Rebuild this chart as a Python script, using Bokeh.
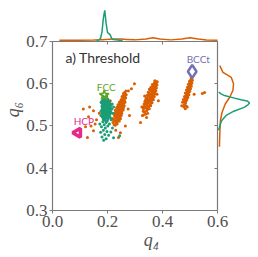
import math
from bokeh.plotting import figure
from bokeh.models import Range1d, FixedTicker, LinearAxis, Label, PrintfTickFormatter
from bokeh.embed import file_html
from bokeh.resources import INLINE

# ---------------- data ----------------
# orange: threshold-identified structures (q4, q6)
orange_q4 = [
    0.224, 0.231, 0.227, 0.236, 0.222, 0.233, 0.240, 0.229, 0.237, 0.226,
    0.244, 0.234, 0.241, 0.231, 0.248, 0.238, 0.245, 0.234, 0.251, 0.242,
    0.249, 0.237, 0.254, 0.245, 0.252, 0.240, 0.257, 0.248, 0.255, 0.244,
    0.259, 0.251, 0.257, 0.248, 0.262, 0.254, 0.260, 0.256, 0.263, 0.259,
    0.265, 0.262, 0.239, 0.246, 0.229, 0.250, 0.243, 0.253, 0.236, 0.258,
    0.220, 0.228, 0.235, 0.218, 0.243, 0.224, 0.247, 0.228, 0.252, 0.233,
    0.257, 0.238, 0.261, 0.243, 0.264, 0.250, 0.266, 0.253, 0.268, 0.258,
    0.267, 0.246, 0.241, 0.250, 0.255, 0.236, 0.232, 0.245,
    0.335, 0.342, 0.331, 0.346, 0.338, 0.350, 0.334, 0.343, 0.355, 0.339,
    0.348, 0.358, 0.344, 0.353, 0.338, 0.361, 0.349, 0.357, 0.343, 0.364,
    0.353, 0.347, 0.360, 0.367, 0.356, 0.351, 0.363, 0.370, 0.359, 0.366,
    0.355, 0.372, 0.362, 0.369, 0.375, 0.366, 0.372, 0.377, 0.370, 0.378,
    0.374, 0.346, 0.352, 0.358, 0.365, 0.341, 0.362, 0.345,
    0.330, 0.328, 0.333, 0.336, 0.340, 0.344, 0.348, 0.352, 0.358, 0.363,
    0.352, 0.357, 0.362, 0.367, 0.370, 0.373, 0.376, 0.378, 0.380, 0.349,
    0.355, 0.360, 0.341, 0.368, 0.346, 0.338, 0.335, 0.372, 0.381,
    0.479, 0.484, 0.478, 0.486, 0.481, 0.489, 0.484, 0.490, 0.486, 0.493,
    0.488, 0.495, 0.491, 0.497, 0.493, 0.499, 0.495, 0.501, 0.497, 0.503,
    0.500, 0.505, 0.502, 0.506, 0.504, 0.507, 0.482, 0.487, 0.492, 0.496,
    0.500,
    0.476, 0.480, 0.483, 0.487, 0.491, 0.494, 0.498, 0.488, 0.492, 0.496,
    0.499, 0.502, 0.505, 0.507, 0.509, 0.485, 0.478, 0.483,
    0.298, 0.287, 0.276, 0.149, 0.131, 0.112, 0.149, 0.127, 0.240,
    0.247, 0.327, 0.320, 0.553, 0.545, 0.473, 0.160, 0.155, 0.170, 0.120,
    0.140, 0.275, 0.280, 0.230, 0.265, 0.330, 0.342, 0.325, 0.385, 0.380,
    0.470, 0.490, 0.515, 0.200, 0.195, 0.210, 0.135,
]
orange_q6 = [
    0.503, 0.507, 0.511, 0.510, 0.515, 0.514, 0.516, 0.519, 0.520, 0.523,
    0.522, 0.525, 0.526, 0.529, 0.528, 0.531, 0.532, 0.535, 0.534, 0.537,
    0.539, 0.540, 0.541, 0.543, 0.545, 0.546, 0.547, 0.549, 0.551, 0.552,
    0.553, 0.555, 0.558, 0.559, 0.560, 0.562, 0.565, 0.568, 0.570, 0.573,
    0.576, 0.579, 0.513, 0.519, 0.532, 0.525, 0.548, 0.537, 0.545, 0.543,
    0.508, 0.502, 0.505, 0.518, 0.512, 0.528, 0.517, 0.537, 0.530, 0.543,
    0.538, 0.550, 0.548, 0.556, 0.556, 0.563, 0.566, 0.570, 0.574, 0.577,
    0.583, 0.541, 0.536, 0.546, 0.556, 0.528, 0.520, 0.527,
    0.533, 0.536, 0.540, 0.541, 0.543, 0.546, 0.547, 0.549, 0.551, 0.553,
    0.554, 0.556, 0.558, 0.559, 0.561, 0.561, 0.563, 0.565, 0.566, 0.567,
    0.569, 0.572, 0.571, 0.573, 0.575, 0.578, 0.578, 0.580, 0.582, 0.585,
    0.585, 0.587, 0.589, 0.591, 0.593, 0.595, 0.597, 0.600, 0.601, 0.604,
    0.606, 0.546, 0.562, 0.573, 0.580, 0.556, 0.584, 0.539,
    0.535, 0.545, 0.552, 0.558, 0.566, 0.573, 0.580, 0.587, 0.592, 0.598,
    0.541, 0.548, 0.555, 0.562, 0.569, 0.576, 0.583, 0.590, 0.597, 0.557,
    0.567, 0.576, 0.561, 0.588, 0.530, 0.528, 0.571, 0.607, 0.605,
    0.551, 0.555, 0.558, 0.560, 0.563, 0.565, 0.568, 0.571, 0.573, 0.575,
    0.578, 0.580, 0.583, 0.585, 0.588, 0.590, 0.593, 0.595, 0.598, 0.600,
    0.603, 0.605, 0.608, 0.611, 0.614, 0.617, 0.560, 0.569, 0.579, 0.589,
    0.598,
    0.563, 0.570, 0.578, 0.585, 0.592, 0.599, 0.606, 0.562, 0.568, 0.574,
    0.582, 0.588, 0.594, 0.601, 0.608, 0.548, 0.545, 0.541,
    0.600, 0.588, 0.583, 0.536, 0.522, 0.540, 0.489, 0.473, 0.473,
    0.484, 0.525, 0.508, 0.579, 0.577, 0.556, 0.515, 0.505, 0.530, 0.498,
    0.500, 0.540, 0.525, 0.490, 0.500, 0.526, 0.520, 0.545, 0.560, 0.575,
    0.548, 0.545, 0.575, 0.548, 0.530, 0.560, 0.545,
]

# green: FCC-like structures (q4, q6)
green_q4 = [
    0.185, 0.192, 0.197,
    0.182, 0.189, 0.195, 0.201,
    0.184, 0.191, 0.198, 0.204, 0.180,
    0.182, 0.188, 0.194, 0.200, 0.207,
    0.180, 0.186, 0.192, 0.197, 0.203, 0.209,
    0.183, 0.189, 0.195, 0.201, 0.207, 0.212,
    0.180, 0.186, 0.192, 0.198, 0.204, 0.210,
    0.182, 0.188, 0.194, 0.200, 0.206, 0.213,
    0.180, 0.185, 0.191, 0.197, 0.203, 0.209,
    0.182, 0.188, 0.194, 0.200, 0.206, 0.212,
    0.180, 0.186, 0.192, 0.198, 0.204, 0.210,
    0.183, 0.189, 0.195, 0.201, 0.207,
    0.181, 0.187, 0.193, 0.199, 0.205,
    0.184, 0.190, 0.196, 0.202,
    0.186, 0.193, 0.199,
    0.183, 0.195, 0.188, 0.201, 0.178, 0.192, 0.207, 0.185, 0.198, 0.175,
    0.190, 0.204, 0.180, 0.195, 0.186, 0.212, 0.218, 0.222, 0.244, 0.172,
    0.214, 0.220, 0.176, 0.222, 0.210, 0.181, 0.177, 0.216, 0.217, 0.176,
]
green_q6 = [
    0.570, 0.568, 0.571,
    0.566, 0.565, 0.567, 0.564,
    0.562, 0.561, 0.563, 0.560, 0.559,
    0.558, 0.557, 0.559, 0.556, 0.558,
    0.554, 0.553, 0.555, 0.552, 0.554, 0.553,
    0.550, 0.549, 0.551, 0.548, 0.550, 0.549,
    0.546, 0.545, 0.547, 0.544, 0.546, 0.545,
    0.542, 0.541, 0.543, 0.540, 0.542, 0.541,
    0.538, 0.537, 0.539, 0.536, 0.538, 0.537,
    0.534, 0.533, 0.535, 0.532, 0.534, 0.533,
    0.530, 0.529, 0.531, 0.528, 0.530, 0.529,
    0.526, 0.525, 0.527, 0.524, 0.526,
    0.522, 0.521, 0.523, 0.520, 0.522,
    0.518, 0.517, 0.519, 0.516,
    0.514, 0.513, 0.512,
    0.510, 0.508, 0.503, 0.500, 0.498, 0.495, 0.505, 0.490, 0.487, 0.485,
    0.480, 0.478, 0.474, 0.470, 0.466, 0.486, 0.495, 0.472, 0.477, 0.505,
    0.515, 0.530, 0.535, 0.545, 0.520, 0.548, 0.556, 0.540, 0.552, 0.525,
]

# reference crystal structures
ref_names = ["FCC", "HCP", "BCCt"]
ref_q4 = [0.188, 0.092, 0.508]
ref_q6 = [0.573, 0.484, 0.629]

# marginal densities (scaled)
kde_q4_grid = [0.025, 0.05, 0.10, 0.15, 0.17, 0.175, 0.18, 0.185, 0.19, 0.195,
               0.20, 0.205, 0.21, 0.215, 0.22, 0.23, 0.25, 0.27, 0.30, 0.34,
               0.365, 0.39, 0.43, 0.47, 0.50, 0.53, 0.56, 0.60]
kde_q4_orange = [0.005, 0.006, 0.010, 0.015, 0.020, 0.022, 0.025, 0.027, 0.030, 0.033,
                 0.036, 0.040, 0.043, 0.045, 0.046, 0.046, 0.045, 0.035, 0.020, 0.050,
                 0.090, 0.050, 0.020, 0.050, 0.090, 0.050, 0.015, 0.005]
kde_green_q4_grid = [0.16, 0.17, 0.175, 0.18, 0.185, 0.19, 0.195, 0.20, 0.205,
                     0.21, 0.215, 0.22, 0.23, 0.245, 0.255]
kde_q4_green = [0.0, 0.02, 0.08, 0.28, 0.72, 0.97, 0.55, 0.26, 0.22, 0.18,
                0.07, 0.03, 0.02, 0.01, 0.0]

kde_q6_grid_orange = [0.451, 0.481, 0.513, 0.532, 0.552, 0.568, 0.584, 0.600,
                      0.615, 0.627, 0.643]
kde_q6_orange = [0.03, 0.04, 0.06, 0.11, 0.21, 0.35, 0.45, 0.47, 0.40, 0.14, 0.04]
kde_q6_grid_green = [0.490, 0.497, 0.505, 0.513, 0.525, 0.535, 0.544, 0.550,
                     0.555, 0.559, 0.562, 0.566, 0.572, 0.576, 0.580]
kde_q6_green = [0.0, 0.03, 0.06, 0.10, 0.24, 0.48, 0.80, 0.92, 0.97, 0.90,
                0.70, 0.50, 0.19, 0.08, 0.01]

x_ticks = [0.0, 0.2, 0.4, 0.6]
y_ticks = [0.3, 0.4, 0.5, 0.6, 0.7]

# ---------------- style ----------------
GREEN = "#1b9e77"
ORANGE = "#d95f02"
PURPLE = "#7570b3"
PINK = "#e7298a"
LGREEN = "#66a61e"
SPINE = "#7a7a7a"
TICKLAB = "#505050"
SERIF = "Liberation Serif"
SANS = "Lato"

# one frame holds the joint plot and both marginals; main axes are bounded
p = figure(output_backend="svg", toolbar_location=None,
           frame_width=198, frame_height=202,
           x_range=Range1d(0.0, 0.72), y_range=Range1d(0.3, 0.7781),
           min_border_left=52, min_border_right=0, min_border_top=8,
           min_border_bottom=44, background_fill_color="white",
           border_fill_color="white", outline_line_color=None)
p.grid.visible = False
p.extra_y_ranges = {"kde_top": Range1d(-5.484, 1.032)}
p.extra_x_ranges = {"kde_right": Range1d(-5.1875, 1.0)}

for ax in (p.xaxis[0], p.yaxis[0]):
    ax.axis_line_color = SPINE
    ax.axis_line_width = 1.2
    ax.major_tick_line_color = SPINE
    ax.major_tick_out = 3
    ax.major_tick_in = 0
    ax.minor_tick_line_color = None
    ax.major_label_text_font = SERIF
    ax.major_label_text_font_size = "17px"
    ax.major_label_text_color = TICKLAB
    ax.major_label_standoff = 2
    ax.axis_label_text_font = SERIF
    ax.axis_label_text_font_style = "italic"
    ax.axis_label_text_font_size = "18px"
    ax.axis_label_text_color = TICKLAB
    ax.axis_label_standoff = 0
    ax.formatter = PrintfTickFormatter(format="%.1f")

p.xaxis[0].ticker = FixedTicker(ticks=x_ticks)
p.xaxis[0].bounds = (x_ticks[0], x_ticks[-1])
p.yaxis[0].ticker = FixedTicker(ticks=y_ticks)
p.yaxis[0].bounds = (y_ticks[0], y_ticks[-1])
p.xaxis[0].axis_label = "q₄"
p.yaxis[0].axis_label = "q₆"

# upper spine (x axis at q6 = 0.7) and right spine (y axis at q4 = 0.6)
top_ax = LinearAxis(ticker=FixedTicker(ticks=x_ticks), bounds=(x_ticks[0], x_ticks[-1]),
                    fixed_location=y_ticks[-1], major_label_text_color=None,
                    major_label_standoff=0, major_tick_in=3, major_tick_out=0,
                    minor_tick_line_color=None, axis_line_color=SPINE,
                    axis_line_width=1.2, major_tick_line_color=SPINE)
p.add_layout(top_ax, "above")
right_ax = LinearAxis(ticker=FixedTicker(ticks=y_ticks), bounds=(y_ticks[0], y_ticks[-1]),
                      fixed_location=x_ticks[-1], major_label_text_color=None,
                      major_label_standoff=0, major_tick_in=3, major_tick_out=0,
                      minor_tick_line_color=None, axis_line_color=SPINE,
                      axis_line_width=1.2, major_tick_line_color=SPINE)
p.add_layout(right_ax, "right")

p.scatter(orange_q4, orange_q6, size=3, color=ORANGE, line_color=None)
p.scatter(green_q4, green_q6, size=3, color=GREEN, line_color=None)

ref_colors = [LGREEN, PINK, PURPLE]
p.scatter([ref_q4[0]], [ref_q6[0]], marker="star", size=10, fill_color="white",
          fill_alpha=0.0, line_color=LGREEN, line_width=1.6)
p.scatter([ref_q4[1]], [ref_q6[1]], marker="triangle", angle=math.pi / 2, size=9,
          fill_color="white", line_color=PINK, line_width=3.5)
p.scatter([ref_q4[2]], [ref_q6[2]], marker="diamond", size=13, fill_color="white",
          line_color=PURPLE, line_width=2.5)

offsets = [(2, 8), (6, 12), (6, 12)]
for name, x, y, c, (dx, dy) in zip(ref_names, ref_q4, ref_q6, ref_colors, offsets):
    p.add_layout(Label(x=x, y=y, x_offset=dx, y_offset=dy, text=name,
                       text_color=c, text_font=SANS, text_font_size="10px",
                       text_align="center", text_baseline="middle"))

p.add_layout(Label(x=0.047, y=0.662, text="a) Threshold", text_font=SANS,
                   text_font_size="14px", text_color="#333333",
                   text_align="left", text_baseline="middle"))

# marginal densities
p.line(kde_q4_grid, kde_q4_orange, color=ORANGE, line_width=1.5, y_range_name="kde_top")
p.line(kde_green_q4_grid, kde_q4_green, color=GREEN, line_width=1.5, y_range_name="kde_top")
p.line(kde_q6_orange, kde_q6_grid_orange, color=ORANGE, line_width=1.5, x_range_name="kde_right")
p.line(kde_q6_green, kde_q6_grid_green, color=GREEN, line_width=1.5, x_range_name="kde_right")

open("out.html", "w").write(file_html(p, INLINE))
